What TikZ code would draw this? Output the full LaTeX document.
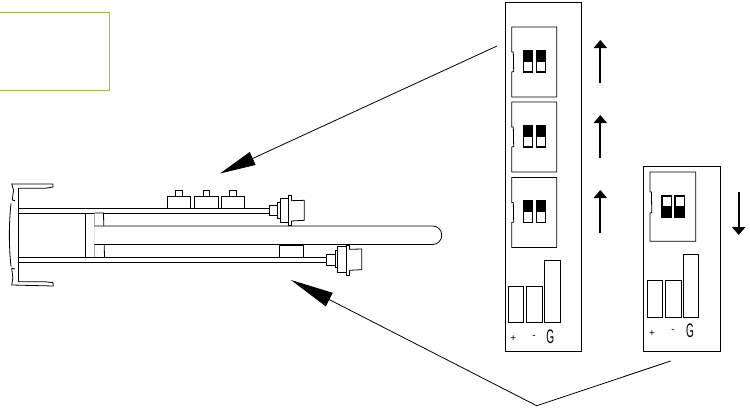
\documentclass[tikz,border=0pt]{standalone}
\usepackage{fontspec}
\setsansfont{Liberation Sans}
\usetikzlibrary{arrows.meta}
\definecolor{boxgreen}{HTML}{9BBB59}
\tikzset{
every node/.style={inner sep=0pt, outer sep=0pt},
partbox/.style={ % Plain outlined parts
draw, fill=white, line width=0.8pt},
panel/.style={partbox, line width=0.9pt},
pointer/.style={ % Long lines with the big solid heads
draw, line width=0.8pt},
direction/.style={ % Thick arrows beside the panels
draw, line width=2pt, -{Triangle[length=8pt,width=13pt]}},
lever/.style={draw, fill=white, line width=1.2pt, minimum width=9.6pt, minimum height=21.5pt},
leverup/.style={draw, fill=black, line width=1.2pt, minimum width=9.6pt, minimum height=10.5pt},
pinlabel/.style={font=\sffamily\fontsize{10}{10}\selectfont},
switchup/.pic={ % Switch body with its notch, levers pushed up
\draw[partbox] (0,0) -- (45,0) -- (45,70) -- (0,70) -- (0,45) -- (2,44.5) -- (1.6,25) -- (0,25) -- cycle;
\node[lever] at (16.3,34.3) {};
\node[lever] at (29.3,34.3) {};
\node[leverup] at (16.3,28.8) {};
\node[leverup] at (29.3,28.8) {};
},
switchdown/.pic={ % Same body, levers pushed down
\draw[partbox] (0,0) -- (45.7,0) -- (45.7,69.3) -- (0,69.3) -- (0,41) -- (1.8,40.5) -- (1.4,20) -- (0,20) -- cycle;
\node[lever] at (16.7,34.8) {};
\node[lever] at (29.7,34.8) {};
\node[leverup] at (16.7,40.3) {};
\node[leverup] at (29.7,40.3) {};
}}

\begin{document}
\begin{tikzpicture}[x=1pt,y=-1pt]
	\useasboundingbox (0,0) rectangle (750,408);
	% empty green frame
	\draw[boxgreen, line width=1pt] (-3,12.5) rectangle (109.5,90);

	% cylinder body
	\draw[partbox] (18.3,208.3) -- (269.3,208.3);
	\draw[partbox] (18.3,213) -- (269.3,213);
	\draw[partbox] (18.3,257.5) -- (326.7,257.5);
	\draw[partbox] (18.3,262) -- (326.7,262);
	\draw[partbox] (18.3,188.3) -- (18.3,281.7);
	\draw[partbox] (85.7,213) rectangle (94.3,257.5);
	\draw[partbox] (94.3,213) -- (103.5,213) -- (104.5,257.5) -- (94.3,257.5);
	\draw[partbox, rounded corners=9pt] (94.3,226) -- (441.7,226) -- (441.7,244.5) -- (94.3,244.5);

	% end bracket
	\draw[partbox, fill=none] (18.3,188.3) -- (45,188.3) -- (53,187) -- (53,184) -- (11.7,184) -- (13.5,190) -- (12.3,200) -- (15,200.7);
	\draw[partbox, fill=none] (18.3,281.7) -- (45,281.7) -- (53,282.7) -- (53.3,286) -- (11.7,285) -- (12.9,278) -- (11.7,268.3) -- (15,269);
	\draw[partbox, fill=none] (11,203.3) .. controls (8.8,225) and (8.8,245) .. (11,266.7);

	% buttons on top
	\node[partbox, minimum width=23.4pt, minimum height=12pt] (btnA) at (179,202.3) {};
	\node[partbox, minimum width=7.7pt, minimum height=6.3pt, anchor=south] (nubA) at (btnA.north) {};
	\node[partbox, minimum width=24pt, minimum height=12pt] (btnB) at (206.3,202.3) {};
	\node[partbox, minimum width=6.7pt, minimum height=6.3pt, anchor=south] (nubB) at (btnB.north) {};
	\node[partbox, minimum width=23.4pt, minimum height=12pt] (btnC) at (233,202.3) {};
	\node[partbox, minimum width=7.3pt, minimum height=6.3pt, anchor=south] (nubC) at (btnC.north) {};
	\node[partbox, minimum width=24pt, minimum height=12.4pt] (blockD) at (291.3,251.5) {};

	% upper connector
	\draw[partbox] (269.3,205.3) rectangle (277.3,215.3);
	\draw[partbox] (277.3,202.3) rectangle (280,218.3);
	\draw[partbox] (280,198) rectangle (288.3,222.7);
	\draw[partbox] (288.3,195.7) rectangle (291,225);
	\draw[partbox] (291,200.7) -- (304.3,200.3) -- (304.3,220.3) -- (291,221);

	% lower connector
	\draw[partbox] (326.7,254.3) rectangle (335,265);
	\draw[partbox] (335,250) rectangle (337.3,267.7);
	\draw[partbox] (337.3,246) rectangle (346.7,272.3);
	\draw[partbox] (346.7,245) rectangle (349,275);
	\draw[partbox] (349,249.3) -- (361.7,249) -- (361.7,269.7) -- (349,270.3);

	% panels
	\node[panel, minimum width=76.4pt, minimum height=349.3pt] (panelA) at (543.5,176.7) {};
	\node[panel, minimum width=76.6pt, minimum height=184.7pt] (panelB) at (682,258.7) {};
	\pic (swA) at (511.7,27) {switchup};
	\pic (swB) at (511.7,102) {switchup};
	\pic (swC) at (511.7,177.5) {switchup};
	\pic (swD) at (650,172) {switchdown};

	% pin strips
	\node[partbox, minimum width=15pt, minimum height=36pt] (plusA) at (515.8,304.7) {};
	\node[partbox, minimum width=16.3pt, minimum height=36pt] (minusA) at (534.2,304.7) {};
	\node[partbox, minimum width=15.6pt, minimum height=61.5pt] (gndA) at (552.5,291.5) {};
	\node[partbox, minimum width=15.4pt, minimum height=36.6pt] (plusB) at (655,299) {};
	\node[partbox, minimum width=15.4pt, minimum height=36.6pt] (minusB) at (673.3,299) {};
	\node[partbox, minimum width=15.4pt, minimum height=62.4pt] (gndB) at (691,285.9) {};
	\node[pinlabel] (lblplusA) at (513.3,339) {+};
	\node[pinlabel] (lblminusA) at (534,336.5) {-};
	\node[pinlabel] (lblgndA) at (550.3,336.5) {\scalebox{0.72}[1.4]{\fontsize{14}{14}\selectfont G}};
	\node[pinlabel] (lblplusB) at (652,333.5) {+};
	\node[pinlabel] (lblminusB) at (673,331) {-};
	\node[pinlabel] (lblgndB) at (690,331) {\scalebox{0.72}[1.4]{\fontsize{14}{14}\selectfont G}};

	% direction arrows
	\coordinate (upAfrom) at (600.3,83);
	\coordinate (upAto) at (600.3,40);
	\coordinate (upBfrom) at (600.3,158);
	\coordinate (upBto) at (600.3,115);
	\coordinate (upCfrom) at (600.3,233);
	\coordinate (upCto) at (600.3,190);
	\coordinate (downfrom) at (738.7,192);
	\coordinate (downto) at (738.7,235);
	\draw[direction] (upAfrom) -- (upAto);
	\draw[direction] (upBfrom) -- (upBto);
	\draw[direction] (upCfrom) -- (upCto);
	\draw[direction] (downfrom) -- (downto);

	% pointers to the cylinder
	\coordinate (topstart) at (497,46);
	\coordinate (toptip) at (220,173.5);
	\coordinate (lowstart) at (670.7,361);
	\coordinate (lowbend) at (536.7,405.7);
	\coordinate (lowtip) at (291,280);
	\draw[pointer, -{Triangle[length=36pt,width=14pt]}] (topstart) -- (toptip);
	\draw[pointer, -{Triangle[length=43pt,width=15pt]}] (lowstart) -- (lowbend) -- (lowtip);
\end{tikzpicture}
\end{document}
